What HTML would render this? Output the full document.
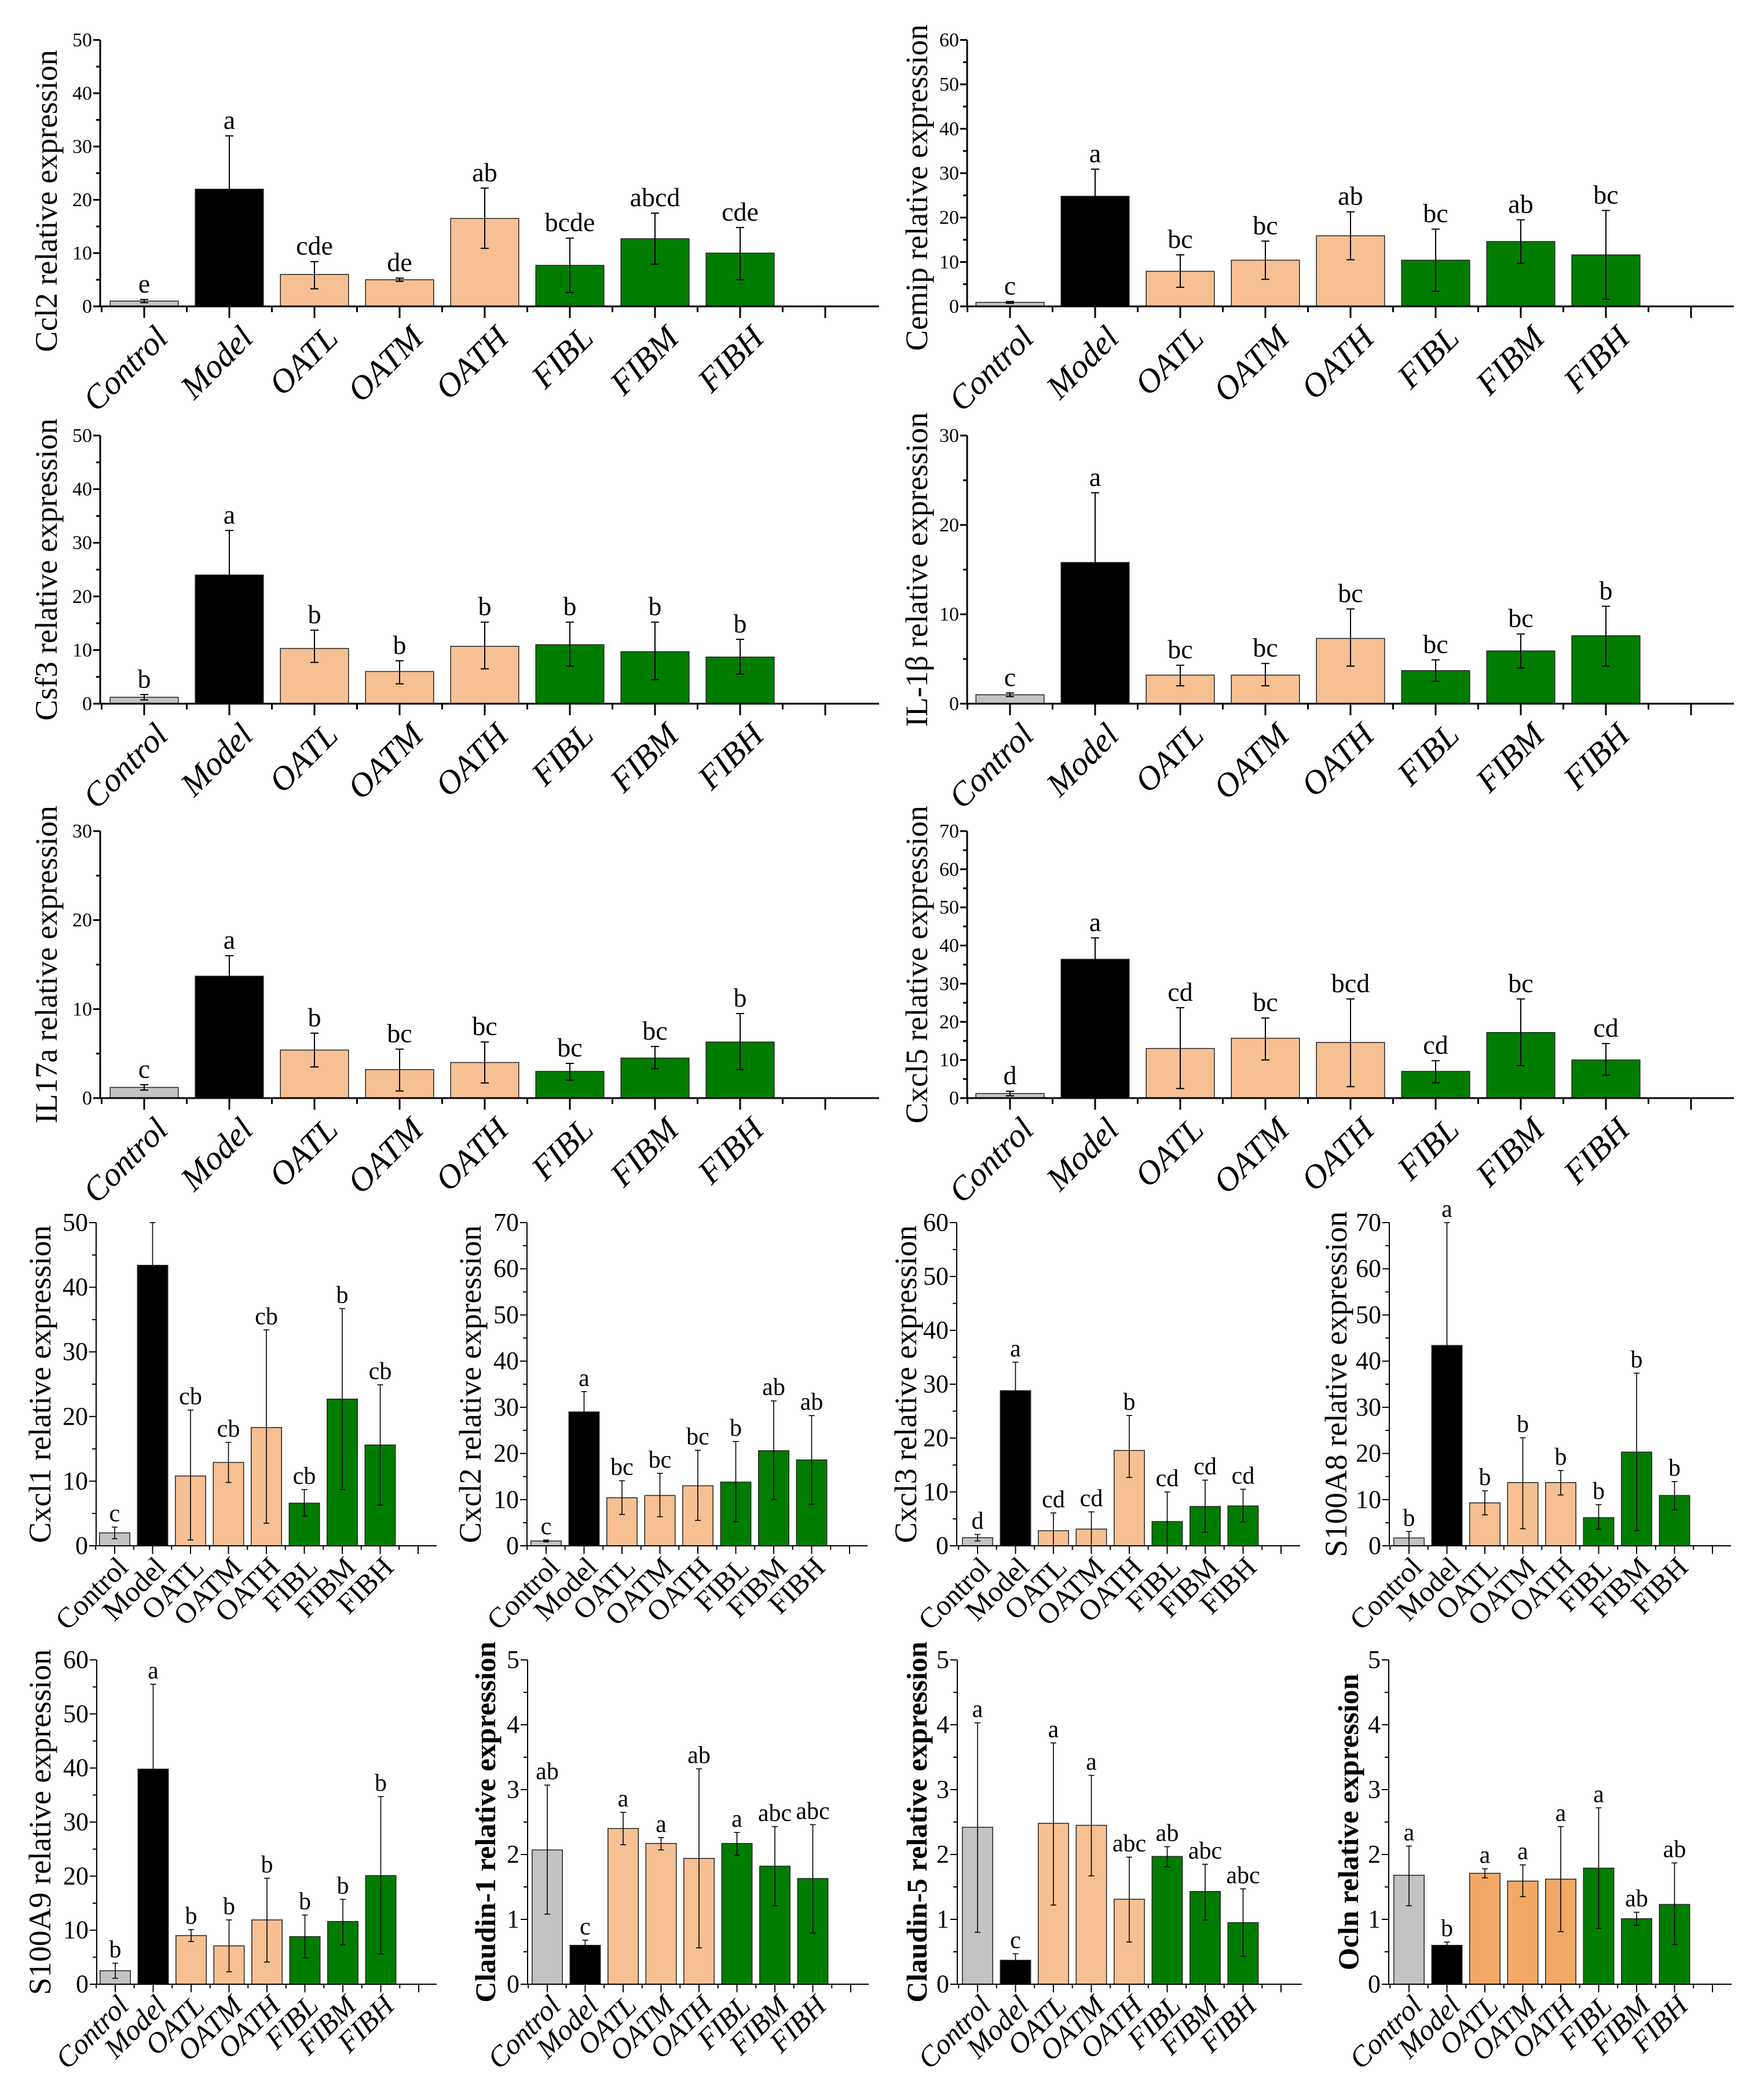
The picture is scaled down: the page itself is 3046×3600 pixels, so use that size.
<!DOCTYPE html>
<html><head><meta charset="utf-8">
<style>
html,body{margin:0;padding:0;background:#fff;}
svg{display:block;}
text{font-family:"Liberation Serif","DejaVu Serif",serif;fill:#000;}
</style></head>
<body>
<svg id="fig" width="3046" height="3600" viewBox="0 0 3046 3600" xmlns="http://www.w3.org/2000/svg"></svg>
<script>
const categories=["Control","Model","OATL","OATM","OATH","FIBL","FIBM","FIBH"];

const ccl2Values=[1,22,6,5,16.5,7.7,12.7,10];
const ccl2Hi=[1.3,32,8.4,5.3,22.2,12.8,17.5,14.8];
const ccl2Lo=[0.7,12,3.3,4.7,10.9,2.6,7.9,5];
const ccl2Letters=["e","a","cde","de","ab","bcde","abcd","cde"];

const cemipValues=[0.9,24.8,7.9,10.4,15.9,10.4,14.6,11.6];
const cemipHi=[1.1,30.9,11.6,14.7,21.3,17.4,19.5,21.6];
const cemipLo=[0.7,18.7,4.3,6.1,10.5,3.4,9.7,1.6];
const cemipLetters=["c","a","bc","bc","ab","bc","ab","bc"];

const csf3Values=[1.2,24,10.3,6,10.7,11,9.7,8.7];
const csf3Hi=[1.7,32.3,13.7,8,15.2,15.2,15.2,12];
const csf3Lo=[0.7,15.7,7.7,3.7,6.5,7,4.5,5.5];
const csf3Letters=["b","a","b","b","b","b","b","b"];

const il1bValues=[1,15.8,3.2,3.2,7.3,3.7,5.9,7.6];
const il1bHi=[1.2,23.6,4.3,4.5,10.6,4.9,7.8,10.9];
const il1bLo=[0.8,8,2,2,4.2,2.5,4,4.2];
const il1bLetters=["c","a","bc","bc","bc","bc","bc","b"];

const il17aValues=[1.2,13.7,5.4,3.2,4,3,4.5,6.3];
const il17aHi=[1.5,16,7.3,5.5,6.3,3.9,5.8,9.5];
const il17aLo=[0.9,11.8,3.5,0.8,1.7,2,3.3,3.2];
const il17aLetters=["c","a","b","bc","bc","bc","bc","b"];

const cxcl5Values=[1.2,36.4,13,15.7,14.6,7,17.2,10];
const cxcl5Hi=[1.8,42,23.7,21,26,9.8,26,14.3];
const cxcl5Lo=[0.6,30,2.5,10,3,4,8.5,6];
const cxcl5Letters=["d","a","cd","bc","bcd","cd","bc","cd"];

const cxcl1Values=[2,43.4,10.8,12.9,18.3,6.6,22.7,15.6];
const cxcl1Hi=[2.9,50,21,16,33.4,8.7,36.7,24.9];
const cxcl1Lo=[1.1,36.8,0.9,9.8,3.5,4.6,8.7,6.3];
const cxcl1Letters=["c","","cb","cb","cb","cb","b","cb"];

const cxcl2Values=[1.05,29,10.4,10.9,13,13.8,20.6,18.6];
const cxcl2Hi=[1.25,33.4,14.1,15.7,20.7,22.6,31.4,28.2];
const cxcl2Lo=[0.85,24.5,6.8,6.3,5.5,5.2,10,9];
const cxcl2Letters=["c","a","bc","bc","bc","b","ab","ab"];

const cxcl3Values=[1.5,28.8,2.8,3.1,17.7,4.5,7.3,7.4];
const cxcl3Hi=[2.1,34.1,6.1,6.3,24.2,10,12.2,10.5];
const cxcl3Lo=[0.9,23.5,0,0,12.7,0,2.5,4.4];
const cxcl3Letters=["d","a","cd","cd","b","cd","cd","cd"];

const s100a8Values=[1.7,43.4,9.3,13.7,13.7,6.1,20.3,10.9];
const s100a8Hi=[3.1,70,11.9,23.4,16.3,8.9,37.4,13.9];
const s100a8Lo=[0,16.8,6.7,3.7,11,3.6,3.3,7.8];
const s100a8Letters=["b","a","b","b","b","b","b","b"];

const s100a9Values=[2.5,39.8,9,7.1,11.9,8.8,11.6,20.1];
const s100a9Hi=[3.9,55.5,10.1,11.9,19.6,12.8,15.7,34.7];
const s100a9Lo=[1.1,24.1,7.9,2.3,4.1,4.9,7.3,5.6];
const s100a9Letters=["b","a","b","b","b","b","b","b"];

const cldn1Values=[2.07,0.6,2.4,2.17,1.94,2.17,1.82,1.63];
const cldn1Hi=[3.07,0.68,2.65,2.26,3.32,2.34,2.43,2.46];
const cldn1Lo=[1.08,0.53,2.15,2.07,0.56,1.99,1.21,0.79];
const cldn1Letters=["ab","c","a","a","ab","a","abc","abc"];

const cldn5Values=[2.42,0.37,2.48,2.45,1.31,1.97,1.43,0.95];
const cldn5Hi=[4.03,0.47,3.72,3.22,1.96,2.12,1.85,1.47];
const cldn5Lo=[0.8,0.3,1.22,1.67,0.65,1.81,0.99,0.43];
const cldn5Letters=["a","c","a","a","abc","ab","abc","abc"];

const oclnValues=[1.68,0.6,1.71,1.59,1.62,1.79,1.01,1.23];
const oclnHi=[2.13,0.65,1.78,1.84,2.43,2.72,1.11,1.87];
const oclnLo=[1.21,0.55,1.64,1.35,0.81,0.86,0.91,0.61];
const oclnLetters=["a","b","a","a","a","a","ab","ab"];

const yMaxes=[50,60,50,30,30,70,50,70,60,70,60,5,5,5];
const yTickSteps=[10,10,10,10,10,10,10,10,10,10,10,1,1,1];
const panelTitles=["Ccl2 relative expression","Cemip relative expression","Csf3 relative expression","IL-1\u03b2 relative expression","IL17a relative expression","Cxcl5 relative expression","Cxcl1 relative expression","Cxcl2 relative expression","Cxcl3 relative expression","S100A8 relative expression","S100A9 relative expression","Claudin-1 relative expression","Claudin-5 relative expression","Ocln relative expression"];
const titleBold=[0,0,0,0,0,0,0,0,0,0,0,1,1,1];
const titleShift=[48,25,0,0,0,0,0,0,0,0,0,0,0,0];

const NS="http://www.w3.org/2000/svg";
const svg=document.getElementById('fig');
function mk(tag,attrs,parent){const e=document.createElementNS(NS,tag);for(const k in attrs)e.setAttribute(k,attrs[k]);(parent||svg).appendChild(e);return e;}

const GRAY="#c3c3c3",BLACK="#000",PEACH="#f6c093",GREEN="#007d00",ORANGE="#f2a866";
const stdColors=[GRAY,BLACK,PEACH,PEACH,PEACH,GREEN,GREEN,GREEN];
const oclnColors=[GRAY,BLACK,ORANGE,ORANGE,ORANGE,GREEN,GREEN,GREEN];

const series=[
 [ccl2Values,ccl2Hi,ccl2Lo,ccl2Letters],[cemipValues,cemipHi,cemipLo,cemipLetters],
 [csf3Values,csf3Hi,csf3Lo,csf3Letters],[il1bValues,il1bHi,il1bLo,il1bLetters],
 [il17aValues,il17aHi,il17aLo,il17aLetters],[cxcl5Values,cxcl5Hi,cxcl5Lo,cxcl5Letters],
 [cxcl1Values,cxcl1Hi,cxcl1Lo,cxcl1Letters],[cxcl2Values,cxcl2Hi,cxcl2Lo,cxcl2Letters],
 [cxcl3Values,cxcl3Hi,cxcl3Lo,cxcl3Letters],[s100a8Values,s100a8Hi,s100a8Lo,s100a8Letters],
 [s100a9Values,s100a9Hi,s100a9Lo,s100a9Letters],[cldn1Values,cldn1Hi,cldn1Lo,cldn1Letters],
 [cldn5Values,cldn5Hi,cldn5Lo,cldn5Letters],[oclnValues,oclnHi,oclnLo,oclnLetters]];

// layout: x0, firstTick, slot, axisEnd, yTop, yZero, titleX, big, italicLabels
const layout=[
 [173,249,147,1518,69,529,80,1,1],[1670,1744,147,2994,69,529,1583,1,1],
 [173,249,147,1518,752,1215,80,1,1],[1670,1744,147,2994,752,1215,1583,1,1],
 [173,249,147,1518,1435,1896,80,1,1],[1670,1744,147,2994,1435,1896,1583,1,1],
 [166,198,65.5,754,2111,2669,69,0,0],[910,943,65.5,1498,2111,2669,812,0,0],
 [1652,1688,65.5,2245,2111,2669,1564,0,0],[2399,2433,65.5,2989,2111,2669,2307,0,0],
 [167,199,65.5,754,2866,3426,69,0,1],[911,945,65.5,1500,2866,3426,838,0,1],
 [1653,1688,65.5,2248,2866,3426,1583,0,1],[2398,2433,65.5,2990,2866,3426,2328,0,1]];

function drawPanel(i){
  const [vals,hi,lo,letters]=series[i];
  const [x0,c0,s,xEnd,yTop,yZero,titleX,big,ital]=layout[i];
  const yMax=yMaxes[i],step=yTickSteps[i];
  const g=mk('g',{});
  
  
  const yS=v=>yZero-(v/yMax)*(yZero-yTop);
  const xS=k=>c0+k*s;
  const colors=(i===13)?oclnColors:stdColors;
  const bw=s*0.8;
  const lw=big?3:2;
  vals.forEach((v,k)=>{
    const r=mk('rect',{x:xS(k)-bw/2,y:yS(v),width:bw,height:yZero-yS(v),fill:colors[k],stroke:'#222','stroke-width':1.5},g);
    
    
  });
  vals.forEach((v,k)=>{
    const cx=xS(k),cap=big?7:5;
    const e=mk('g',{stroke:'#000','stroke-width':big?2:1.6},g);
    
    
    mk('line',{x1:cx,x2:cx,y1:yS(hi[k]),y2:yS(lo[k])},e);
    mk('line',{x1:cx-cap,x2:cx+cap,y1:yS(hi[k]),y2:yS(hi[k])},e);
    mk('line',{x1:cx-cap,x2:cx+cap,y1:yS(lo[k]),y2:yS(lo[k])},e);
    if(letters[k]){
      const t=mk('text',{x:cx,y:yS(hi[k])-(big?12:10),'text-anchor':'middle','font-size':big?46:42},g);
      t.textContent=letters[k];
      
      
    }
  });
  const ax=mk('g',{stroke:'#000','stroke-width':lw},g);
  
  
  mk('line',{x1:x0,x2:x0,y1:yTop,y2:yZero},ax);
  mk('line',{x1:x0,x2:xEnd,y1:yZero,y2:yZero},ax);
  for(let v=0;v<=yMax+1e-9;v+=step/2){
    const major=Math.abs(v/step-Math.round(v/step))<1e-6;
    mk('line',{x1:x0-(major?12:7),x2:x0,y1:yS(v),y2:yS(v)},ax);
    if(major){
      const t=mk('text',{x:x0-14,y:yS(v)+(big?11:14),'text-anchor':'end','font-size':big?34:44,stroke:'none'},g);
      t.textContent=String(Math.round(v*100)/100);
      
      
    }
  }
  for(let k=0;k<9;k++){
    mk('line',{x1:xS(k),x2:xS(k),y1:yZero,y2:yZero+(big?20:14)},ax);
    mk('line',{x1:xS(k)-s/2,x2:xS(k)-s/2,y1:yZero,y2:yZero+(big?10:7)},ax);
  }
  categories.forEach((c,k)=>{
    const lx=xS(k)+(big?44:26), ly=yZero+(big?58:40);
    const t=mk('text',{x:lx,y:ly,'text-anchor':'end','font-size':big?58:50,'font-style':ital?'italic':'normal',transform:`rotate(-45 ${lx} ${ly})`},g);
    t.textContent=c;
    
    
  });
  const ty=(yTop+yZero)/2+titleShift[i];
  const tt=mk('text',{x:titleX,y:ty,'text-anchor':'middle','dominant-baseline':'central','font-size':big?54:(titleBold[i]?50:54),'font-weight':titleBold[i]?'bold':'normal',transform:`rotate(-90 ${titleX} ${ty})`},g);
  tt.textContent=panelTitles[i];
  
  
}
for(let i=0;i<series.length;i++)drawPanel(i);
</script>
</body></html>
